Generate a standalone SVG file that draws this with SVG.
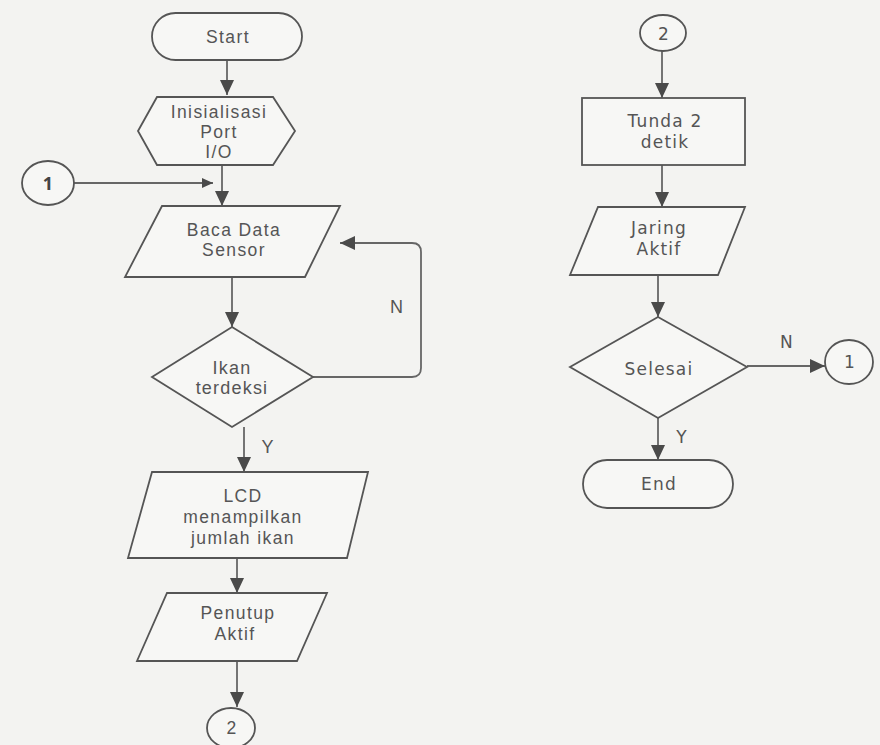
<svg xmlns="http://www.w3.org/2000/svg" width="880" height="745" viewBox="0 0 880 745">
<defs>
<marker id="ah" markerUnits="userSpaceOnUse" markerWidth="16" markerHeight="16" viewBox="0 0 16 16" refX="15" refY="8" orient="auto">
<path d="M0,1 L15,8 L0,15 Z" fill="#4a4a4a"/>
</marker>
<marker id="ahs" markerUnits="userSpaceOnUse" markerWidth="12" markerHeight="12" viewBox="0 0 12 12" refX="11" refY="6" orient="auto">
<path d="M0,1 L11,6 L0,11 Z" fill="#4a4a4a"/>
</marker>
<style>
.s{fill:#f7f7f5;stroke:#555;stroke-width:1.8}
.c{fill:none;stroke:#666;stroke-width:1.8}
.t{font-family:"Liberation Sans",Arial,sans-serif;font-size:17.5px;letter-spacing:1.4px;fill:#555;text-anchor:middle}
.a{font-family:"Liberation Sans",Arial,sans-serif;font-size:18px;letter-spacing:1.2px;fill:#555;text-anchor:middle}
.v{font-family:"DejaVu Sans",Verdana,sans-serif;font-size:17px;letter-spacing:1.2px;fill:#555;text-anchor:middle}
</style>
</defs>
<rect width="880" height="745" fill="#f3f3f1"/>
<g id="connectors">
<line class="c" x1="227" y1="60" x2="227" y2="95" marker-end="url(#ah)"/>
<line class="c" x1="222" y1="165" x2="222" y2="206" marker-end="url(#ah)"/>
<line class="c" x1="74" y1="183" x2="213" y2="183" marker-end="url(#ahs)"/>
<line class="c" x1="232" y1="277" x2="232" y2="327" marker-end="url(#ah)"/>
<path class="c" d="M313,377 H412 Q421,377 421,368 V252 Q421,243 412,243 H340" marker-end="url(#ah)"/>
<line class="c" x1="244" y1="427" x2="244" y2="472" marker-end="url(#ah)"/>
<line class="c" x1="237" y1="558" x2="237" y2="593" marker-end="url(#ah)"/>
<line class="c" x1="237" y1="661" x2="237" y2="707" marker-end="url(#ah)"/>
<line class="c" x1="662" y1="51" x2="662" y2="98" marker-end="url(#ah)"/>
<line class="c" x1="662" y1="165" x2="662" y2="207" marker-end="url(#ah)"/>
<line class="c" x1="658" y1="275" x2="658" y2="317" marker-end="url(#ah)"/>
<line class="c" x1="747" y1="366" x2="825" y2="366" marker-end="url(#ah)"/>
<line class="c" x1="658" y1="418" x2="658" y2="460" marker-end="url(#ah)"/>
<text class="a" x="397" y="313">N</text>
<text class="a" x="268" y="453">Y</text>
<text class="v" x="787" y="348">N</text>
<text class="v" x="682" y="443">Y</text>
</g>
<g id="start">
<rect class="s" x="152" y="13" width="150" height="47" rx="23.5"/>
<text class="t" x="228" y="43">Start</text>
</g>
<g id="init">
<polygon class="s" points="138,131 157,97 273,97 295,131 273,165 157,165"/>
<text class="t" x="219" y="118">Inisialisasi</text>
<text class="t" x="219" y="138">Port</text>
<text class="t" x="219" y="158">I/O</text>
</g>
<g id="conn1-left">
<ellipse class="s" cx="48" cy="183" rx="26" ry="22"/>
<text x="48" y="190" font-family="'Open Sans','Liberation Sans',sans-serif" font-size="18" font-weight="bold" fill="#444" text-anchor="middle">1</text>
</g>
<g id="baca">
<polygon class="s" points="162,206 340,206 305,277 125,277"/>
<text class="t" x="234" y="236">Baca Data</text>
<text class="t" x="234" y="256">Sensor</text>
</g>
<g id="ikan">
<polygon class="s" points="232,327 313,377 232,427 152,377"/>
<text class="a" x="232" y="374">Ikan</text>
<text class="a" x="232" y="394">terdeksi</text>
</g>
<g id="lcd">
<polygon class="s" points="152,472 368,472 347,558 128,558"/>
<text class="t" x="243" y="502">LCD</text>
<text class="t" x="243" y="523">menampilkan</text>
<text class="t" x="243" y="544">jumlah ikan</text>
</g>
<g id="penutup">
<polygon class="s" points="167,593 327,593 297,661 137,661"/>
<text class="t" x="238" y="619" font-size="16" letter-spacing="1">Penutup</text>
<text class="t" x="235" y="640" font-size="16" letter-spacing="1">Aktif</text>
</g>
<g id="conn2-left">
<ellipse class="s" cx="231" cy="728" rx="24" ry="20"/>
<text class="t" x="232" y="734">2</text>
</g>
<g id="conn2-right">
<ellipse class="s" cx="663" cy="33" rx="23" ry="18"/>
<text class="v" x="664" y="40">2</text>
</g>
<g id="tunda">
<rect class="s" x="582" y="98" width="163" height="67"/>
<text class="v" x="665" y="127">Tunda 2</text>
<text class="v" x="665" y="148">detik</text>
</g>
<g id="jaring">
<polygon class="s" points="598,207 745,207 718,275 570,275"/>
<text class="v" x="659" y="234">Jaring</text>
<text class="v" x="659" y="255">Aktif</text>
</g>
<g id="selesai">
<polygon class="s" points="658,317 747,367 658,418 570,367"/>
<text class="v" x="659" y="375">Selesai</text>
</g>
<g id="conn1-right">
<ellipse class="s" cx="849" cy="362" rx="24" ry="22"/>
<text class="v" x="850" y="368">1</text>
</g>
<g id="end">
<rect class="s" x="583" y="460" width="150" height="48" rx="24"/>
<text class="v" x="659" y="490">End</text>
</g>
</svg>
